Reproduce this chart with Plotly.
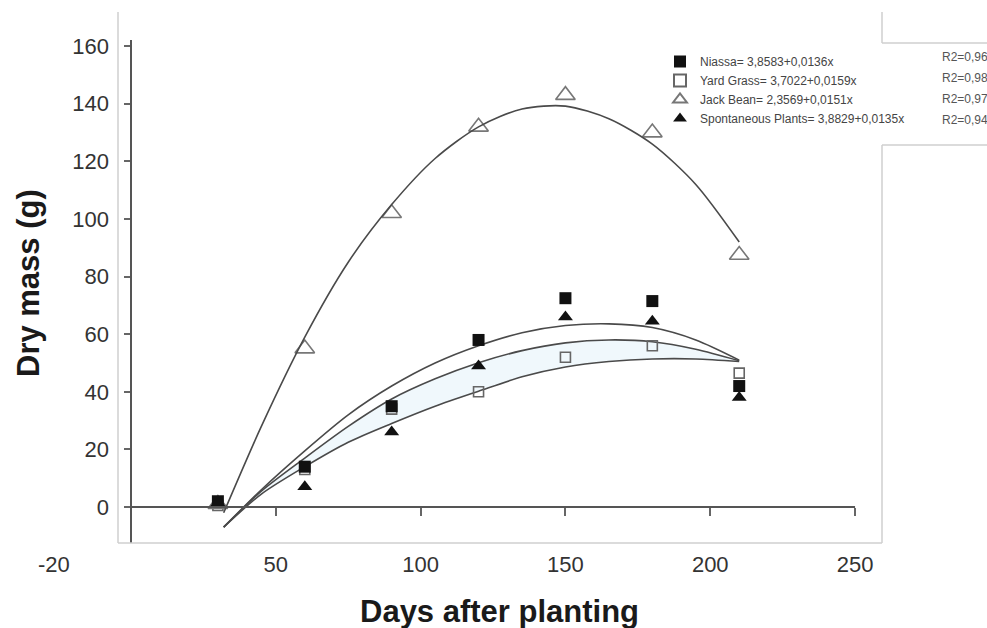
import plotly.graph_objects as go

# ---------------- data ----------------
days = [30, 60, 90, 120, 150, 180, 210]
niassa = [2, 14, 35, 58, 72.5, 71.5, 42]
yard_grass = [0.5, 13, 34, 40, 52, 56, 46.5]
jack_bean = [1, 55, 102, 132, 143, 130, 87.5]
spontaneous = [1.5, 7, 26, 49, 66, 64.5, 38]

fit_days = [32, 45, 60, 75, 90, 105, 120, 135, 150, 165, 180, 195, 210]
fit_top = [-7, 6, 19.5, 32, 42, 50, 56, 60.5, 63, 63.6, 62.3, 58, 51]
fit_mid = [-7, 5.5, 17, 28, 37.5, 44.5, 50.1, 54.3, 57, 58, 57.4, 54.8, 50.8]
fit_bot = [-7, 4.5, 14, 22.5, 29, 35, 40.2, 45.2, 48.6, 50.5, 51.4, 51.4, 50.5]
fit_jack = [-2, 28, 59, 85, 105, 121, 132, 138.2, 139.2, 134.8, 126, 112, 92]

legend_names = [
    "Niassa= 3,8583+0,0136x",
    "Yard Grass= 3,7022+0,0159x",
    "Jack Bean= 2,3569+0,0151x",
    "Spontaneous Plants= 3,8829+0,0135x",
]
r2_labels = ["R2=0,96", "R2=0,98", "R2=0,97", "R2=0,94"]

y_ticks = [0, 20, 40, 60, 80, 100, 120, 140, 160]
x_ticks = [50, 100, 150, 200, 250]

FONT = "Liberation Sans, Arial, sans-serif"
W, H = 987, 628
L, R, T, B = 118, 105, 40, 85
XR = [-4.49, 259.3]
YR = [-12.5, 162.15]

fig = go.Figure()

curve_style = dict(color="#4a4a4a", width=1.6, shape="spline", smoothing=0.8)
fig.add_trace(go.Scatter(x=fit_days, y=fit_bot, mode="lines", line=curve_style,
                         showlegend=False, hoverinfo="skip"))
fig.add_trace(go.Scatter(x=fit_days, y=fit_mid, mode="lines", line=curve_style,
                         fill="tonexty", fillcolor="rgba(226,242,250,0.5)",
                         showlegend=False, hoverinfo="skip"))
fig.add_trace(go.Scatter(x=fit_days, y=fit_top, mode="lines", line=curve_style,
                         showlegend=False, hoverinfo="skip"))
# drawn on the overlaying axis pair (same ranges) so that axis pair is rendered
fig.add_trace(go.Scatter(x=fit_days, y=fit_jack, mode="lines", line=curve_style,
                         xaxis="x2", yaxis="y2",
                         showlegend=False, hoverinfo="skip"))

fig.add_trace(go.Scatter(x=days, y=yard_grass, mode="markers", name=legend_names[1],
                         legendrank=2,
                         marker=dict(symbol="square-open", size=10, color="#666",
                                     line=dict(width=1.6, color="#666"))))
fig.add_trace(go.Scatter(x=days, y=jack_bean, mode="markers", name=legend_names[2],
                         legendrank=3,
                         marker=dict(symbol="triangle-up-open", size=17, color="#777",
                                     line=dict(width=1.6, color="#777"))))
fig.add_trace(go.Scatter(x=days, y=spontaneous, mode="markers", name=legend_names[3],
                         legendrank=4,
                         marker=dict(symbol="triangle-up", size=13, color="#111")))
fig.add_trace(go.Scatter(x=days, y=niassa, mode="markers", name=legend_names[0],
                         legendrank=1,
                         marker=dict(symbol="square", size=12, color="#111")))

pw = W - L - R
ph = H - T - B
x0_frac = (0 - XR[0]) / (XR[1] - XR[0])
y0_frac = (0 - YR[0]) / (YR[1] - YR[0])

def px_x(p):
    return (p - L) / pw

def px_y(p):
    return (H - B - p) / ph

annotations = []
annotations.append(dict(text="<b>Days after planting</b>", xref="paper", yref="paper",
                        x=px_x(499), y=px_y(611), xanchor="center", yanchor="middle",
                        showarrow=False, font=dict(family=FONT, size=31, color="#1a1a1a")))
annotations.append(dict(text="<b>Dry mass (g)</b>", xref="paper", yref="paper",
                        x=px_x(28), y=px_y(283), xanchor="center", yanchor="middle",
                        textangle=-90, showarrow=False,
                        font=dict(family=FONT, size=31, color="#1a1a1a")))
annotations.append(dict(text="-20", xref="paper", yref="paper",
                        x=px_x(54), y=px_y(564), xanchor="center", yanchor="middle",
                        showarrow=False, font=dict(family=FONT, size=22, color="#333")))
for i, t in enumerate(r2_labels):
    annotations.append(dict(text=t, xref="paper", yref="paper",
                            x=px_x(940), y=px_y(57 + 21 * i), xanchor="left", yanchor="middle",
                            showarrow=False, font=dict(family=FONT, size=12, color="#555")))

frame_col = "#cfcfcf"
shapes = [
    dict(type="line", xref="paper", yref="paper", x0=0, x1=0, y0=0, y1=px_y(12),
         line=dict(color=frame_col, width=1.5)),
    dict(type="line", xref="paper", yref="paper", x0=0, x1=1, y0=0, y1=0,
         line=dict(color=frame_col, width=1.5)),
    dict(type="line", xref="paper", yref="paper", x0=1, x1=1, y0=0, y1=px_y(145),
         line=dict(color=frame_col, width=1.5)),
    dict(type="line", xref="paper", yref="paper", x0=1, x1=1, y0=px_y(43), y1=px_y(12),
         line=dict(color=frame_col, width=1.5)),
    dict(type="line", xref="paper", yref="paper", x0=1, x1=px_x(990), y0=px_y(43), y1=px_y(43),
         line=dict(color=frame_col, width=1.5)),
    dict(type="line", xref="paper", yref="paper", x0=1, x1=px_x(990), y0=px_y(145), y1=px_y(145),
         line=dict(color=frame_col, width=1.5)),
    dict(type="line", xref="x", yref="y", x0=0, x1=x_ticks[-1], y0=0, y1=0,
         line=dict(color="#555", width=2)),
]

fig.update_layout(
    width=W, height=H,
    margin=dict(l=L, r=R, t=T, b=B),
    paper_bgcolor="white", plot_bgcolor="white",
    font=dict(family=FONT, color="#333"),
    xaxis=dict(range=XR, showgrid=False, zeroline=False, showline=False,
               tickvals=x_ticks, ticks="", ticklabelstandoff=6,
               tickfont=dict(family=FONT, size=22, color="#333")),
    yaxis=dict(range=YR, showgrid=False, zeroline=False, showline=False,
               tickvals=y_ticks, ticks="", ticklabelstandoff=8,
               tickfont=dict(family=FONT, size=22, color="#333")),
    xaxis2=dict(range=XR, overlaying="x", anchor="free", position=y0_frac,
                showgrid=False, zeroline=False, showline=False, tickvals=x_ticks,
                ticks="outside", ticklen=8, tickwidth=1.5, tickcolor="#666",
                showticklabels=False),
    yaxis2=dict(range=YR, overlaying="y", anchor="free", position=x0_frac,
                showgrid=False, zeroline=False, showline=True, linecolor="#555", linewidth=2,
                tickvals=y_ticks, ticks="outside", ticklen=6, tickwidth=1.5, tickcolor="#666",
                showticklabels=False),
    legend=dict(x=px_x(660), y=px_y(47), xanchor="left", yanchor="top",
                bgcolor="rgba(255,255,255,0)", borderwidth=0, traceorder="normal",
                font=dict(family=FONT, size=12, color="#444"),
                itemsizing="constant", tracegroupgap=0, itemwidth=30),
    shapes=shapes,
    annotations=annotations,
)

fig.write_html("out.html")
